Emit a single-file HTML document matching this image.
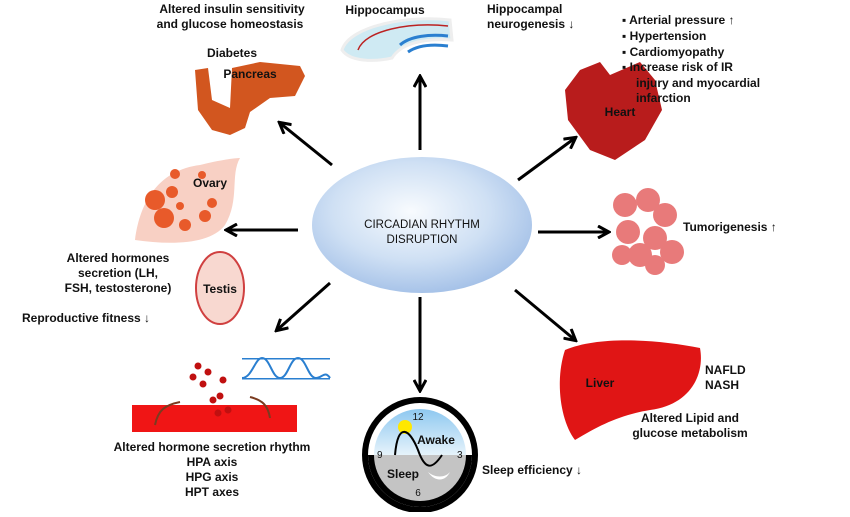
<!DOCTYPE html>
<html><head><meta charset="utf-8"><style>
html,body{margin:0;padding:0;background:#fff}
svg text{font-family:"Liberation Sans",sans-serif;font-weight:bold;fill:#111}
</style></head><body>
<svg width="850" height="512" viewBox="0 0 850 512" xmlns="http://www.w3.org/2000/svg">
<defs>
<radialGradient id="cg" cx="0.45" cy="0.4" r="0.65"><stop offset="0" stop-color="#f8fbfe"/><stop offset="0.55" stop-color="#cfe0f4"/><stop offset="1" stop-color="#9fbde6"/></radialGradient>
<linearGradient id="sky" x1="0" y1="0" x2="0" y2="1"><stop offset="0" stop-color="#8ec8f0"/><stop offset="1" stop-color="#e6f3fb"/></linearGradient>
<marker id="ah" markerWidth="14" markerHeight="14" refX="11" refY="7" orient="auto" markerUnits="userSpaceOnUse"><path d="M1,1 L12,7 L1,13" fill="none" stroke="#000" stroke-width="3"/></marker>
</defs>
<g font-size="12">
<ellipse cx="422" cy="225" rx="110" ry="68" fill="url(#cg)"/>
<text x="422" y="228" text-anchor="middle" style="font-weight:normal" font-size="11.5">CIRCADIAN RHYTHM</text>
<text x="422" y="243" text-anchor="middle" style="font-weight:normal" font-size="11.5">DISRUPTION</text>
<g stroke="#000" stroke-width="3" marker-end="url(#ah)">
<line x1="420" y1="150" x2="420" y2="77"/>
<line x1="332" y1="165" x2="280" y2="123"/>
<line x1="298" y1="230" x2="227" y2="230"/>
<line x1="330" y1="283" x2="277" y2="330"/>
<line x1="420" y1="297" x2="420" y2="390"/>
<line x1="515" y1="290" x2="575" y2="340"/>
<line x1="538" y1="232" x2="608" y2="232"/>
<line x1="518" y1="180" x2="575" y2="138"/>
</g>
<text x="232" y="13" text-anchor="middle">Altered insulin sensitivity</text>
<text x="230" y="28" text-anchor="middle">and glucose homeostasis</text>
<text x="232" y="57" text-anchor="middle">Diabetes</text>
<path d="M195,70 L208,68 L212,100 L230,108 L232,68 L260,62 L300,66 L305,76 L295,96 L270,98 L250,112 L245,128 L230,135 L212,130 L198,110 Z" fill="#d2561f"/>
<text x="250" y="78" text-anchor="middle">Pancreas</text>
<text x="385" y="14" text-anchor="middle">Hippocampus</text>
<path d="M342,50 C350,25 410,15 450,20 L452,40 C420,38 400,45 392,58 C375,62 350,62 342,50 Z" fill="#cfeaf3" stroke="#eee" stroke-width="3"/>
<path d="M358,50 C365,30 410,22 448,26" fill="none" stroke="#b22" stroke-width="1.5"/>
<path d="M400,45 C410,36 430,34 448,36 M408,52 C418,45 432,44 448,46" fill="none" stroke="#2a7fd0" stroke-width="3"/>
<text x="487" y="13">Hippocampal</text>
<text x="487" y="28">neurogenesis ↓</text>
<path d="M580,70 L600,62 L610,75 L640,62 L655,80 L662,110 L645,140 L615,160 L590,150 L568,120 L565,90 Z" fill="#b81c1c"/>
<text x="620" y="116" text-anchor="middle">Heart</text>
<text x="622" y="24">▪  Arterial pressure ↑</text>
<text x="622" y="40">▪  Hypertension</text>
<text x="622" y="56">▪  Cardiomyopathy</text>
<text x="622" y="71">▪  Increase risk of IR</text>
<text x="636" y="87">injury and myocardial</text>
<text x="636" y="102">infarction</text>
<g fill="#e35a5a" opacity="0.8">
<circle cx="625" cy="205" r="12"/><circle cx="648" cy="200" r="12"/><circle cx="665" cy="215" r="12"/><circle cx="628" cy="232" r="12"/><circle cx="655" cy="238" r="12"/><circle cx="640" cy="255" r="12"/><circle cx="672" cy="252" r="12"/><circle cx="655" cy="265" r="10"/><circle cx="622" cy="255" r="10"/>
</g>
<text x="683" y="231">Tumorigenesis ↑</text>
<path d="M565,350 C600,335 660,340 700,348 C705,375 690,405 650,410 C620,415 600,425 575,440 C560,420 555,380 565,350 Z" fill="#e01515"/>
<text x="600" y="387" text-anchor="middle">Liver</text>
<text x="705" y="374">NAFLD</text>
<text x="705" y="389">NASH</text>
<text x="690" y="422" text-anchor="middle">Altered Lipid and</text>
<text x="690" y="437" text-anchor="middle">glucose metabolism</text>
<circle cx="420" cy="455" r="58" fill="#000"/>
<circle cx="420" cy="455" r="52" fill="#fff"/>
<path d="M374,455 A46,46 0 0 1 466,455 Z" fill="url(#sky)"/>
<path d="M368,455 A52,52 0 0 0 472,455 Z" fill="#000"/>
<path d="M374,455 A46,46 0 0 0 466,455 Z" fill="#c4c4c4"/>
<circle cx="405" cy="427" r="7" fill="#ffe800"/>
<path d="M395,455 C398,420 410,430 418,450 C425,470 432,470 442,455" fill="none" stroke="#000" stroke-width="2"/>
<text x="418" y="420" text-anchor="middle" style="font-weight:normal" font-size="10">12</text>
<text x="436" y="444" text-anchor="middle">Awake</text>
<text x="403" y="478" text-anchor="middle">Sleep</text>
<text x="377" y="458" style="font-weight:normal" font-size="10">9</text>
<text x="457" y="458" style="font-weight:normal" font-size="10">3</text>
<text x="418" y="496" text-anchor="middle" style="font-weight:normal" font-size="10">6</text>
<path d="M428,472 C435,482 445,482 450,472 C445,478 435,478 428,472 Z" fill="#fff"/>
<text x="482" y="474">Sleep efficiency ↓</text>
<rect x="132" y="405" width="165" height="27" fill="#f01515"/>
<g fill="#c01010">
<circle cx="198" cy="366" r="3.5"/><circle cx="208" cy="372" r="3.5"/><circle cx="193" cy="377" r="3.5"/><circle cx="203" cy="384" r="3.5"/><circle cx="223" cy="380" r="3.5"/><circle cx="213" cy="400" r="3.5"/><circle cx="220" cy="396" r="3.5"/><circle cx="228" cy="410" r="3.5"/><circle cx="218" cy="413" r="3.5"/>
</g>
<path d="M155,425 C158,410 165,405 180,402 M270,418 C268,405 262,400 250,397" fill="none" stroke="#7a3b20" stroke-width="2"/>
<rect x="242" y="358" width="88" height="1.5" fill="#2a7fd0"/><rect x="242" y="378" width="88" height="1.5" fill="#2a7fd0"/>
<path d="M242,378 C252,378 255,358 262,358 C270,358 272,378 280,378 C288,378 290,358 298,358 C306,358 308,378 316,378 C322,378 325,370 330,378" fill="none" stroke="#2a7fd0" stroke-width="2"/>
<text x="212" y="451" text-anchor="middle">Altered hormone secretion rhythm</text>
<text x="212" y="466" text-anchor="middle">HPA axis</text>
<text x="212" y="481" text-anchor="middle">HPG axis</text>
<text x="212" y="496" text-anchor="middle">HPT axes</text>
<path d="M135,240 C140,200 160,170 200,165 C220,160 235,158 240,158 C230,175 240,200 225,225 C210,245 170,245 135,240 Z" fill="#f8d0c4"/>
<g fill="#e85a2a">
<circle cx="175" cy="174" r="5"/><circle cx="155" cy="200" r="10"/><circle cx="172" cy="192" r="6"/><circle cx="202" cy="175" r="4"/><circle cx="180" cy="206" r="4"/><circle cx="212" cy="203" r="5"/><circle cx="164" cy="218" r="10"/><circle cx="185" cy="225" r="6"/><circle cx="205" cy="216" r="6"/>
</g>
<text x="210" y="187" text-anchor="middle">Ovary</text>
<ellipse cx="220" cy="288" rx="24" ry="36" fill="#f8d8d0" stroke="#d04040" stroke-width="2"/>
<text x="220" y="293" text-anchor="middle">Testis</text>
<text x="118" y="262" text-anchor="middle">Altered hormones</text>
<text x="118" y="277" text-anchor="middle">secretion (LH,</text>
<text x="118" y="292" text-anchor="middle">FSH, testosterone)</text>
<text x="22" y="322">Reproductive fitness ↓</text>
</g>
</svg>
</body></html>
